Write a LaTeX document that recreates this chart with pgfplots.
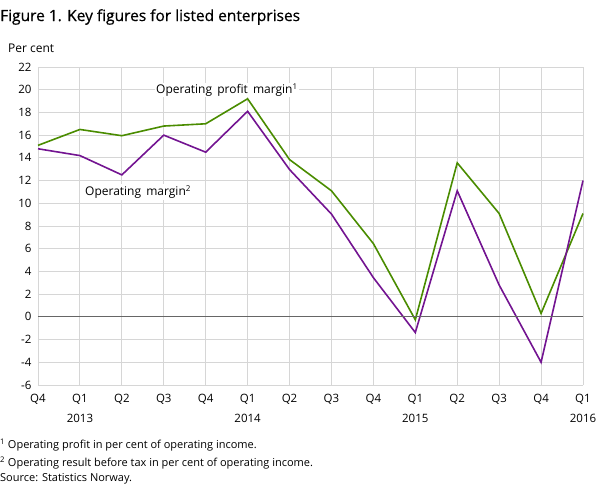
\documentclass[border=0pt]{standalone}
\usepackage{fontspec}
\setmainfont{Open Sans}
\newfontfamily\titlefont[FakeBold=0.5]{Open Sans}
\usepackage{pgfplots}
\pgfplotsset{compat=1.18}
\definecolor{ssbgreen}{RGB}{74,140,0}
\definecolor{ssbpurple}{RGB}{115,20,145}
\definecolor{gridgrey}{RGB}{214,214,214}

\begin{document}
\begin{tikzpicture}[x=1pt,y=1pt]
\path[use as bounding box] (-38,-102) rectangle (570,385);
\begin{axis}[
  at={(0,0)}, anchor=south west,
  scale only axis, width=545pt, height=318pt,
  xmin=0, xmax=13, ymin=-6, ymax=22,
  axis line style={draw=none},
  xtick={0,...,13}, ytick={-6,-4,...,22},
  xticklabels={Q4,Q1\\2013,Q2,Q3,Q4,Q1\\2014,Q2,Q3,Q4,Q1\\2015,Q2,Q3,Q4,Q1\\2016},
  xticklabel style={align=center, font=\fontsize{11.5}{20}\selectfont, yshift=-6pt},
  yticklabel style={font=\fontsize{11.5}{13}\selectfont, xshift=-3pt},
  /pgf/number format/assume math mode=true,
  major tick length=0pt,
  grid=major, major grid style={gridgrey, line width=0.9pt},
  clip=false,
]
\addplot[ssbgreen, line width=1.6pt] coordinates {
(0,15.1) (1,16.5) (2,15.95) (3,16.8) (4,17.0) (5,19.2) (6,13.85)
(7,11.1) (8,6.45) (9,-0.26) (10,13.56) (11,9.1) (12,0.3) (13,9.1)};
\addplot[ssbpurple, line width=1.6pt] coordinates {
(0,14.8) (1,14.2) (2,12.5) (3,16.0) (4,14.5) (5,18.1) (6,12.97)
(7,9.05) (8,3.45) (9,-1.38) (10,11.1) (11,2.8) (12,-4.0) (13,12.0)};
\draw[gray!80!black, line width=0.8pt] (axis cs:0,0) -- (axis cs:13,0);
\end{axis}
\node[anchor=west, inner sep=0pt, font=\fontsize{12}{14}\selectfont] at (-30,337) {Per cent};
\node[anchor=west, inner sep=0pt, font=\titlefont\fontsize{15.5}{18}\selectfont] at (-38,368) {Figure 1. Key figures for listed enterprises};
\node[anchor=west, inner sep=1pt, fill=white, font=\fontsize{12}{14}\selectfont] at (117,295) {Operating\, profit\, margin\textsuperscript{1}};
\node[anchor=west, inner sep=1pt, fill=white, font=\fontsize{12}{14}\selectfont] at (46,193) {Operating\, margin\textsuperscript{2}};
\node[anchor=west, inner sep=0pt, font=\fontsize{11}{13}\selectfont] at (-38,-60) {\textsuperscript{1} Operating profit in per cent of operating income.};
\node[anchor=west, inner sep=0pt, font=\fontsize{11}{13}\selectfont] at (-38,-78) {\textsuperscript{2} Operating result before tax in per cent of operating income.};
\node[anchor=west, inner sep=0pt, font=\fontsize{11}{13}\selectfont] at (-38,-94) {Source: Statistics Norway.};
\end{tikzpicture}
\end{document}
